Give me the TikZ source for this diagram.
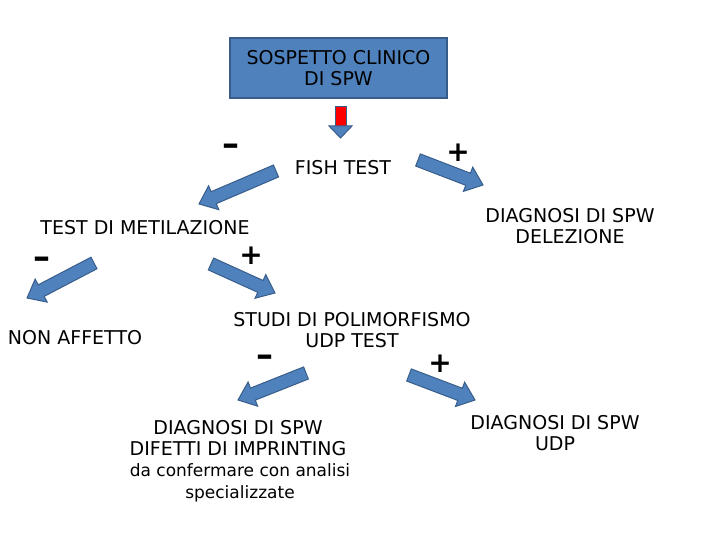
\documentclass[tikz,border=0pt]{standalone}
\usepackage{fontspec}
\setmainfont{DejaVu Sans}
\usetikzlibrary{calc}
\definecolor{boxblue}{HTML}{4F81BD}
\definecolor{boxedge}{HTML}{385D8A}
\definecolor{alarm}{HTML}{FF0000}
% block arrow from coordinate #1-a (tail) to #1-b (tip)
\newcommand{\blockarr}[1]{%
  \coordinate (#1-h) at ($(#1-b)!16pt!(#1-a)$);
  \filldraw[barr] ($(#1-a)!6.5pt!90:(#1-b)$) -- ($(#1-h)!6.5pt!90:(#1-b)$)
    -- ($(#1-h)!13pt!90:(#1-b)$) -- (#1-b) -- ($(#1-h)!13pt!-90:(#1-b)$)
    -- ($(#1-h)!6.5pt!-90:(#1-b)$) -- ($(#1-a)!6.5pt!-90:(#1-b)$) -- cycle;}

\begin{document}
\begin{tikzpicture}[x=1pt,y=-1pt,
  box/.style={draw=boxedge,line width=1.5pt,fill=boxblue,align=center,minimum width=217pt,minimum height=60pt,inner sep=0pt},
  lbl/.style={align=center,font=\fontsize{19}{21.5}\selectfont,inner sep=0pt},
  small/.style={lbl,font=\fontsize{17}{22.5}\selectfont},
  sign/.style={font=\bfseries\fontsize{28}{28}\selectfont,inner sep=0pt},
  minus/.style={sign,font=\bfseries\fontsize{34}{34}\selectfont},
  barr/.style={fill=boxblue,draw=boxedge,line width=1pt,line join=miter}]
\useasboundingbox (0,0) rectangle (720,540);
% top
\node[box,lbl] (susp) at (338.5,68) {SOSPETTO CLINICO\\DI SPW};
\filldraw[fill=alarm,draw=boxedge,line width=1pt] (335,107) rectangle (346,127);
\filldraw[barr] (329,126) -- (352,126) -- (340.5,138) -- cycle;
\node[lbl] (fish) at (343,168) {FISH TEST};
\node[minus] (fishneg) at (231,150) {–};
\node[sign] (fishpos) at (458,153) {+};
\coordinate (fishneg-a) at (276,171); \coordinate (fishneg-b) at (199,204);
\coordinate (fishpos-a) at (418,160); \coordinate (fishpos-b) at (483,185);
\blockarr{fishneg} \blockarr{fishpos}
\node[lbl] (delez) at (570,226) {DIAGNOSI DI SPW\\DELEZIONE};
% metilazione
\node[lbl] (metil) at (145,228) {TEST DI METILAZIONE};
\node[minus] (metneg) at (42,263) {–};
\node[sign] (metpos) at (251,256) {+};
\coordinate (metneg-a) at (94,263); \coordinate (metneg-b) at (27,298);
\coordinate (metpos-a) at (211,264); \coordinate (metpos-b) at (275,293);
\blockarr{metneg} \blockarr{metpos}
\node[lbl] (nonaff) at (75,338) {NON AFFETTO};
% polimorfismo
\node[lbl] (poli) at (352,330) {STUDI DI POLIMORFISMO\\UDP TEST};
\node[minus] (udpneg) at (265,361) {–};
\node[sign] (udppos) at (440,364) {+};
\coordinate (udpneg-a) at (306,373); \coordinate (udpneg-b) at (238,400);
\coordinate (udppos-a) at (409,375); \coordinate (udppos-b) at (475,400);
\blockarr{udpneg} \blockarr{udppos}
\node[lbl] (imprint) at (238,438) {DIAGNOSI DI SPW\\DIFETTI DI IMPRINTING};
\node[small] (confirm) at (240,483) {da confermare con analisi\\specializzate};
\node[lbl] (udpdiag) at (555,433) {DIAGNOSI DI SPW\\UDP};
\end{tikzpicture}
\end{document}
